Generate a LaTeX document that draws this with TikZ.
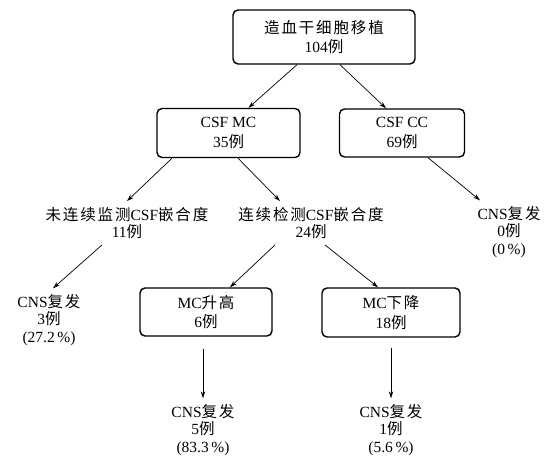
\documentclass[tikz,border=0pt]{standalone}
\usepackage{fontspec}
\setmainfont{Liberation Serif}
\newfontfamily\cjk[LetterSpace=12]{Noto Sans CJK SC}
\usetikzlibrary{arrows.meta,calc}
\newcommand{\zh}[1]{{\cjk #1}}
\begin{document}
\begin{tikzpicture}[x=1pt,y=-1pt,
  box/.style={draw, line width=1.4pt, rounded corners=5pt, align=center, inner sep=0pt, font=\fontsize{15.5}{19.5}\selectfont},
  lbl/.style={align=center, inner sep=0pt, outer sep=6pt, font=\fontsize{15.5}{17.5}\selectfont},
  arr/.style={-{Stealth[length=7pt,width=4.5pt]}, line width=0.7pt}]
\useasboundingbox (0,0) rectangle (553,462);
\node[box, minimum width=182, minimum height=54] (top) at (324,37) {\zh{造血干细胞移植}\\104\zh{例}};
\node[box, minimum width=143, minimum height=49] (mc) at (228.5,133) {CSF MC\\35\zh{例}};
\node[box, minimum width=125, minimum height=48] (cc) at (402,133) {CSF CC\\69\zh{例}};
\node[lbl] (l11) at (127,223) {\zh{未连续监测}CSF\zh{嵌合度}\\11\zh{例}};
\node[lbl] (l24) at (311,223) {\zh{连续检测}CSF\zh{嵌合度}\\24\zh{例}};
\node[lbl] (r0) at (509,232) {CNS\zh{复发}\\0\zh{例}\\(0\,\%)};
\node[lbl] (r3) at (49,320) {CNS\zh{复发}\\3\zh{例}\\(27.2\,\%)};
\node[box, minimum width=132, minimum height=48] (mcup) at (206,312) {MC\zh{升高}\\6\zh{例}};
\node[box, minimum width=138, minimum height=49] (mcdn) at (391,312.5) {MC\zh{下降}\\18\zh{例}};
\node[lbl] (r5) at (203,430) {CNS\zh{复发}\\5\zh{例}\\(83.3\,\%)};
\node[lbl] (r1) at (391,430) {CNS\zh{复发}\\1\zh{例}\\(5.6\,\%)};
\draw[arr] ([xshift=-27]top.south) -- ([xshift=20]mc.north);
\draw[arr] ([xshift=16]top.south) -- ([xshift=-16]cc.north);
\draw[arr] ([xshift=-56.5]mc.south) -- (l11.north);
\draw[arr] ([xshift=9.5]mc.south) -- ([xshift=-31]l24.north);
\draw[arr] ([xshift=26]cc.south) -- ([xshift=-29]r0.north);
\draw[arr] ([xshift=-25]l11.south) -- ([xshift=4]r3.north);
\draw[arr] ([xshift=-36]l24.south) -- ([xshift=24]mcup.north);
\draw[arr] ([xshift=14]l24.south) -- ([xshift=-13]mcdn.north);
\draw[arr, shorten <=12pt] ([xshift=-3]mcup.south) -- (r5.north);
\draw[arr, shorten <=10pt] (mcdn.south) -- (r1.north);
\end{tikzpicture}
\end{document}
